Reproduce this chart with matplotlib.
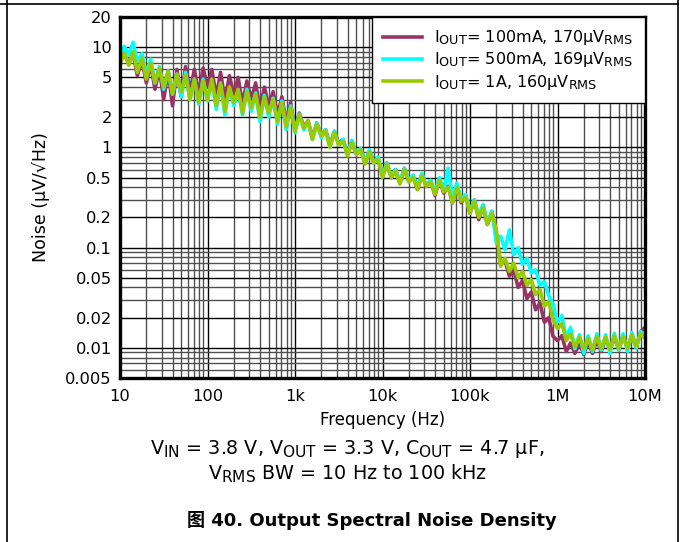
import matplotlib
matplotlib.use("Agg")
import matplotlib.pyplot as plt
from matplotlib.ticker import FixedLocator, NullFormatter
from matplotlib.lines import Line2D
try:
    import matplotlib._mathtext as _mt
    _mt.SHRINK_FACTOR = 0.8
except Exception:
    pass

plt.rcParams['font.family'] = ['DejaVu Sans']
plt.rcParams['mathtext.fontset'] = 'dejavusans'

freq_hz = [
    10, 11.2, 12.6, 14.1, 15.8, 17.8, 20, 22.4, 25.1, 28.2, 31.6, 35.5, 39.8, 44.7, 50.1, 56.2, 63.1, 70.8, 79.4, 89.1,
    100, 112, 126, 141, 158, 178, 200, 224, 251, 282, 316, 355, 398, 447, 501, 562, 631, 708, 794, 891,
    1e3, 1.12e3, 1.26e3, 1.41e3, 1.58e3, 1.78e3, 2e3, 2.24e3, 2.51e3, 2.82e3, 3.16e3, 3.55e3, 3.98e3, 4.47e3, 5.01e3, 5.62e3, 6.31e3, 7.08e3, 7.94e3, 8.91e3,
    1e4, 1.12e4, 1.26e4, 1.41e4, 1.58e4, 1.78e4, 2e4, 2.24e4, 2.51e4, 2.82e4, 3.16e4, 3.55e4, 3.98e4, 4.47e4, 5.01e4, 5.62e4, 6.31e4, 7.08e4, 7.94e4, 8.91e4,
    1e5, 1.12e5, 1.26e5, 1.41e5, 1.58e5, 1.78e5, 2e5, 2.24e5, 2.51e5, 2.82e5, 3.16e5, 3.55e5, 3.98e5, 4.47e5, 5.01e5, 5.62e5, 6.31e5, 7.08e5, 7.94e5, 8.91e5,
    1e6, 1.12e6, 1.26e6, 1.41e6, 1.58e6, 1.78e6, 2e6, 2.24e6, 2.51e6, 2.82e6, 3.16e6, 3.55e6, 3.98e6, 4.47e6, 5.01e6, 5.62e6, 6.31e6, 7.08e6, 7.94e6, 8.91e6,
    1e7,
]

noise_100ma = [
    7.2, 8.4, 7.0, 8.6, 5.2, 7.4, 4.4, 6.8, 3.8, 6.0, 3.0, 5.8, 2.6, 6.0, 3.2, 6.4, 3.6, 6.0, 3.4, 6.2,
    4.0, 6.0, 3.2, 5.6, 3.0, 5.2, 3.4, 5.0, 2.7, 4.6, 3.0, 4.4, 2.4, 4.0, 2.6, 3.6, 2.1, 3.2, 1.8, 2.8,
    1.5, 2.2, 1.6, 1.85, 1.25, 1.75, 1.3, 1.5, 1.05, 1.45, 1.1, 1.2, 0.85, 1.15, 0.86, 0.96, 0.7, 0.92, 0.72, 0.78,
    0.52, 0.7, 0.5, 0.6, 0.44, 0.62, 0.46, 0.52, 0.38, 0.54, 0.41, 0.47, 0.33, 0.48, 0.35, 0.41, 0.28, 0.42, 0.28, 0.33,
    0.22, 0.3, 0.19, 0.26, 0.17, 0.23, 0.14, 0.068, 0.075, 0.052, 0.06, 0.04, 0.047, 0.031, 0.036, 0.024, 0.028, 0.018, 0.02, 0.013,
    0.0118, 0.0132, 0.0092, 0.0112, 0.0088, 0.011, 0.0086, 0.0115, 0.0088, 0.012, 0.0092, 0.0125, 0.0094, 0.0128, 0.0096, 0.0132, 0.0098, 0.0135, 0.01, 0.0145,
    0.016,
]

noise_500ma = [
    7.6, 10.2, 8.4, 11.2, 7.2, 8.6, 5.4, 7.6, 4.4, 6.4, 3.8, 5.8, 3.4, 5.4, 3.2, 5.6, 3.0, 4.8, 2.7, 4.8,
    2.9, 4.6, 2.4, 4.2, 2.1, 3.9, 2.6, 3.7, 2.1, 3.8, 2.3, 3.5, 1.8, 3.3, 2.0, 3.1, 1.7, 2.9, 1.5, 2.6,
    1.4, 2.15, 1.5, 1.8, 1.2, 1.75, 1.25, 1.5, 1.0, 1.45, 1.05, 1.2, 0.84, 1.18, 0.86, 0.98, 0.7, 0.95, 0.7, 0.8,
    0.52, 0.7, 0.51, 0.6, 0.45, 0.62, 0.47, 0.53, 0.4, 0.55, 0.42, 0.47, 0.36, 0.5, 0.37, 0.62, 0.31, 0.44, 0.3, 0.34,
    0.23, 0.3, 0.21, 0.27, 0.18, 0.23, 0.11, 0.13, 0.095, 0.15, 0.085, 0.1, 0.068, 0.078, 0.056, 0.06, 0.042, 0.046, 0.033, 0.027,
    0.018, 0.021, 0.0125, 0.016, 0.0098, 0.0135, 0.0088, 0.0132, 0.0092, 0.0138, 0.0095, 0.0135, 0.0088, 0.014, 0.0095, 0.0138, 0.0092, 0.0142, 0.0098, 0.0145,
    0.0135,
]

noise_1a = [
    6.8, 8.8, 6.6, 9.0, 5.6, 7.8, 4.8, 7.0, 4.4, 6.2, 4.0, 5.8, 3.4, 5.4, 3.6, 5.2, 3.0, 4.8, 2.8, 4.6,
    3.0, 4.8, 2.6, 4.4, 2.3, 4.0, 2.8, 3.8, 2.2, 3.6, 2.5, 3.4, 2.0, 3.2, 2.2, 3.0, 1.8, 2.8, 1.6, 2.5,
    1.45, 2.1, 1.55, 1.85, 1.2, 1.7, 1.3, 1.45, 1.0, 1.4, 1.05, 1.15, 0.82, 1.12, 0.85, 0.95, 0.68, 0.9, 0.7, 0.76,
    0.5, 0.68, 0.5, 0.58, 0.43, 0.6, 0.45, 0.5, 0.38, 0.52, 0.41, 0.45, 0.34, 0.47, 0.36, 0.4, 0.28, 0.4, 0.29, 0.32,
    0.22, 0.29, 0.2, 0.25, 0.17, 0.22, 0.15, 0.065, 0.078, 0.058, 0.07, 0.05, 0.058, 0.042, 0.048, 0.034, 0.038, 0.026, 0.029, 0.019,
    0.0155, 0.0175, 0.0118, 0.0138, 0.0102, 0.0128, 0.0098, 0.0125, 0.0095, 0.013, 0.0098, 0.0128, 0.0096, 0.0132, 0.0098, 0.013, 0.0098, 0.0135, 0.0102, 0.0138,
    0.0125,
]

series_labels = [
    r"I$_{\mathrm{OUT}}$= 100mA, 170μV$_{\mathrm{RMS}}$",
    r"I$_{\mathrm{OUT}}$= 500mA, 169μV$_{\mathrm{RMS}}$",
    r"I$_{\mathrm{OUT}}$= 1A, 160μV$_{\mathrm{RMS}}$",
]
series_colors = ['#993366', '#00FFFF', '#99CC00']

x_ticks = [10, 100, 1e3, 1e4, 1e5, 1e6, 1e7]
x_tick_labels = ['10', '100', '1k', '10k', '100k', '1M', '10M']
y_ticks = [0.005, 0.01, 0.02, 0.05, 0.1, 0.2, 0.5, 1, 2, 5, 10, 20]
y_tick_labels = ['0.005', '0.01', '0.02', '0.05', '0.1', '0.2', '0.5', '1', '2', '5', '10', '20']

fig = plt.figure(figsize=(6.81, 5.42), dpi=100)
ax = fig.add_axes([120/681, 1-378/542, (645-120)/681, (378-17)/542])

ax.set_xscale('log')
ax.set_yscale('log')
ax.set_xlim(10, 1e7)
ax.set_ylim(0.005, 20)

for vals, lab, col in zip([noise_100ma, noise_500ma, noise_1a], series_labels, series_colors):
    ax.plot(freq_hz, vals, color=col, lw=2.6, label=lab, zorder=3, solid_joinstyle='round')

ax.xaxis.set_major_locator(FixedLocator(x_ticks))
ax.set_xticklabels(x_tick_labels)
x_minor = [m * d for d in [10, 100, 1e3, 1e4, 1e5, 1e6] for m in range(2, 10)]
ax.xaxis.set_minor_locator(FixedLocator(x_minor))
ax.xaxis.set_minor_formatter(NullFormatter())

ax.yaxis.set_major_locator(FixedLocator(y_ticks))
ax.set_yticklabels(y_tick_labels)
y_minor = [0.006, 0.007, 0.008, 0.009, 0.03, 0.04, 0.06, 0.07, 0.08, 0.09,
           0.3, 0.4, 0.6, 0.7, 0.8, 0.9, 3, 4, 6, 7, 8, 9]
ax.yaxis.set_minor_locator(FixedLocator(y_minor))
ax.yaxis.set_minor_formatter(NullFormatter())

ax.grid(True, which='major', color='black', lw=1.0, zorder=1)
ax.grid(True, which='minor', color='#505050', lw=1.0, zorder=1)
ax.tick_params(which='both', length=0, labelsize=11.7)
ax.tick_params(axis='x', pad=8)
ax.tick_params(axis='y', pad=6)
for s in ax.spines.values():
    s.set_linewidth(2.4)
    s.set_zorder(5)

ax.set_xlabel('Frequency (Hz)', fontsize=12, labelpad=5)
ax.set_ylabel('Noise (μV/√Hz)', fontsize=12.5, labelpad=11)

leg = ax.legend(loc='upper right', bbox_to_anchor=(1, 1), borderaxespad=0,
                fontsize=11.5, fancybox=False, framealpha=1, edgecolor='black',
                handlelength=2.4, handletextpad=0.8, labelspacing=0.2,
                borderpad=0.7)
leg.get_frame().set_linewidth(1.0)
leg.set_zorder(6)

fig.text(347/681, 1-449/542, r"V$_{\mathrm{IN}}$ = 3.8 V, V$_{\mathrm{OUT}}$ = 3.3 V, C$_{\mathrm{OUT}}$ = 4.7 µF,",
         ha='center', va='center', fontsize=13.8)
fig.text(348/681, 1-474/542, r"V$_{\mathrm{RMS}}$ BW = 10 Hz to 100 kHz",
         ha='center', va='center', fontsize=13.8)
fig.text(372/681, 1-520/542, "图 40. Output Spectral Noise Density",
         ha='center', va='center', fontsize=13, fontweight='bold',
         family=['DejaVu Sans', 'Noto Sans CJK SC'])

# page frame lines
fig.add_artist(Line2D([0, 678/681], [1-4/542, 1-4/542], color='black', lw=1.2, transform=fig.transFigure))
fig.add_artist(Line2D([7/681, 7/681], [0, 1], color='black', lw=1.2, transform=fig.transFigure))
fig.add_artist(Line2D([678/681, 678/681], [0, 1], color='black', lw=1.2, transform=fig.transFigure))

fig.savefig('out.png', dpi=100)
